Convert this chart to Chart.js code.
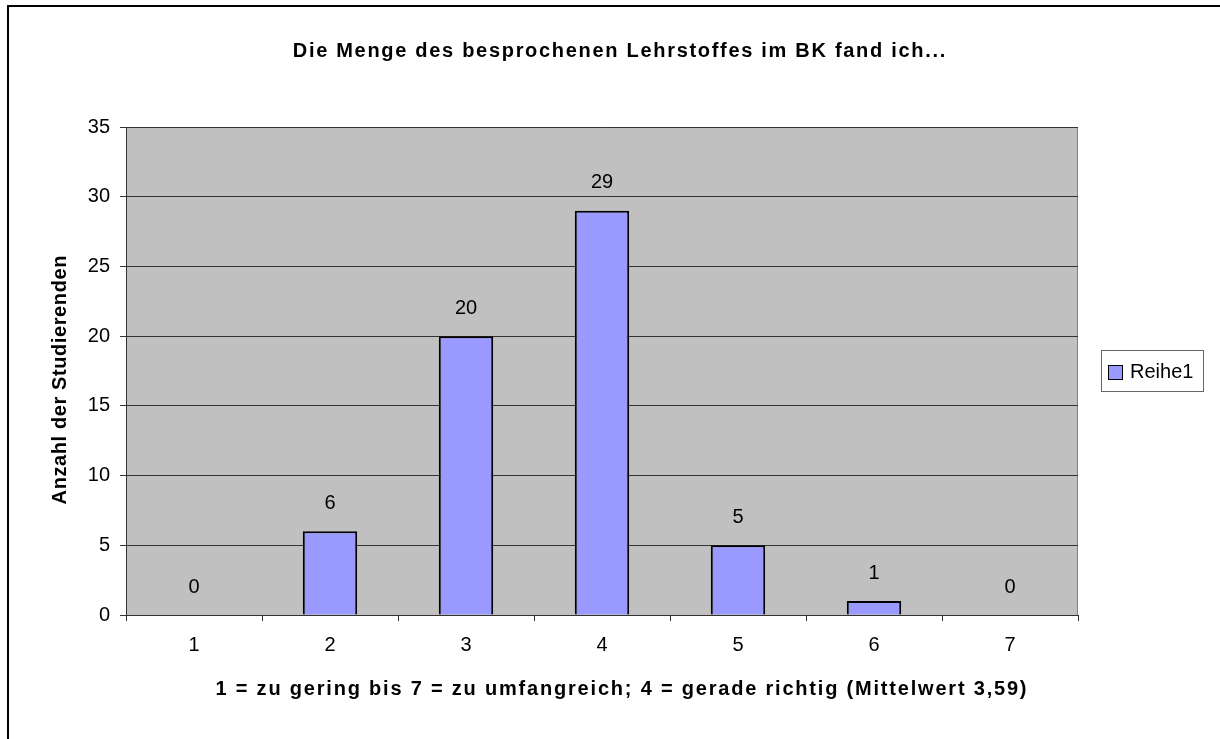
<!DOCTYPE html>
<html lang="de">
<head>
<meta charset="utf-8">
<title>Die Menge des besprochenen Lehrstoffes im BK fand ich...</title>
<script src="https://cdn.jsdelivr.net/npm/chart.js@4.4.1/dist/chart.umd.min.js"></script>
<style>
    html, body { margin: 0; padding: 0; background: #fff; }
    canvas { display: block; }
</style>
</head>
<body>
<canvas id="lehrstoff-chart" width="1220" height="739"></canvas>
<script>
const kategorien = ['1', '2', '3', '4', '5', '6', '7']
const anzahlStudierende = [0, 6, 20, 29, 5, 1, 0]
const reiheName = 'Reihe1'
const titelText = 'Die Menge des besprochenen Lehrstoffes im BK fand ich...'
const yTitelText = 'Anzahl der Studierenden'
const xTitelText = '1 = zu gering bis 7 = zu umfangreich; 4 = gerade richtig (Mittelwert 3,59)'

const canvasLehrstoff = document.querySelector('#lehrstoff-chart')
const schrift = '"Liberation Sans", Arial, sans-serif'
const balkenFarbe = '#9999FF'

const zeichneText = (ctx, text, x, y, abstand, winkel) => {
    ctx.save()
    ctx.translate(x, y)
    ctx.rotate(winkel)
    ctx.letterSpacing = abstand + 'px'
    // letterSpacing haengt auch hinter dem letzten zeichen an
    ctx.fillText(text, abstand / 2, 0)
    ctx.restore()
}

// rahmen, grauer plotbereich, titel, werte und legende
const excelLook = {
    id: 'excelLook',
    beforeDraw: (chart) => {
        const { ctx, chartArea } = chart
        ctx.save()
        ctx.fillStyle = '#fff'
        ctx.fillRect(0, 0, chart.width, chart.height)
        ctx.strokeStyle = '#000'
        ctx.lineWidth = 2
        ctx.strokeRect(8, 6, chart.width + 40, chart.height + 40)
        ctx.fillStyle = '#C0C0C0'
        ctx.fillRect(chartArea.left, chartArea.top, chartArea.right - chartArea.left, chartArea.bottom - chartArea.top)
        ctx.strokeStyle = '#808080'
        ctx.lineWidth = 1
        ctx.strokeRect(chartArea.left + 0.5, chartArea.top + 0.5, chartArea.right - chartArea.left - 1, chartArea.bottom - chartArea.top)
        ctx.restore()
    },
    afterDatasetsDraw: (chart) => {
        const { ctx } = chart
        const meta = chart.getDatasetMeta(0)
        ctx.save()
        ctx.font = `20px ${schrift}`
        ctx.fillStyle = '#000'
        ctx.textAlign = 'center'
        ctx.textBaseline = 'middle'
        meta.data.forEach((bar, i) => {
            ctx.fillText(String(anzahlStudierende[i]), bar.x, bar.y - 28)
        })
        ctx.restore()
    },
    afterDraw: (chart) => {
        const { ctx, chartArea } = chart
        const mitteY = (chartArea.top + chartArea.bottom) / 2
        ctx.save()
        ctx.font = `bold 20px ${schrift}`
        ctx.fillStyle = '#000'
        ctx.textAlign = 'center'
        ctx.textBaseline = 'middle'
        zeichneText(ctx, titelText, 619, 51, 1.7, 0)
        zeichneText(ctx, xTitelText, 621, 689, 1.8, 0)
        zeichneText(ctx, yTitelText, 60, mitteY + 9, 0.6, -Math.PI / 2)

        // legende
        const boxX = chartArea.right + 23
        const boxY = Math.round(mitteY - 21)
        ctx.strokeStyle = '#666'
        ctx.lineWidth = 1
        ctx.strokeRect(boxX + 0.5, boxY + 0.5, 102, 41)
        ctx.fillStyle = balkenFarbe
        ctx.fillRect(boxX + 7, boxY + 15, 14, 14)
        ctx.strokeStyle = '#000'
        ctx.strokeRect(boxX + 7.5, boxY + 15.5, 14, 14)
        ctx.font = `20px ${schrift}`
        ctx.fillStyle = '#000'
        ctx.textAlign = 'left'
        ctx.fillText(reiheName, boxX + 29, boxY + 22)
        ctx.restore()
    }
}

const data = {
    labels: kategorien,
    datasets: [{
        label: reiheName,
        data: anzahlStudierende,
        backgroundColor: balkenFarbe,
        borderColor: '#000',
        borderWidth: 2,
        categoryPercentage: 1,
        barPercentage: 0.4
    }]
}

const config = {
    type: 'bar',
    data: data,
    options: {
        responsive: false,
        animation: false,
        devicePixelRatio: 1,
        layout: {
            padding: { top: 127, right: 142, left: 0, bottom: 0 }
        },
        plugins: {
            legend: { display: false },
            title: { display: false },
            tooltip: { enabled: false }
        },
        scales: {
            x: {
                afterFit: (scale) => { scale.height = 124 },
                grid: {
                    drawOnChartArea: false,
                    drawTicks: true,
                    tickLength: 6,
                    color: '#333'
                },
                border: { color: '#333', width: 1 },
                ticks: {
                    color: '#000',
                    padding: 12,
                    font: { family: schrift, size: 20 }
                }
            },
            y: {
                min: 0,
                max: 35,
                afterFit: (scale) => { scale.width = 126 },
                grid: {
                    color: '#333',
                    tickLength: 6
                },
                border: { color: '#333', width: 1 },
                ticks: {
                    stepSize: 5,
                    color: '#000',
                    padding: 10,
                    font: { family: schrift, size: 20 }
                }
            }
        }
    },
    plugins: [excelLook]
}

new Chart(canvasLehrstoff, config)
</script>
</body>
</html>
